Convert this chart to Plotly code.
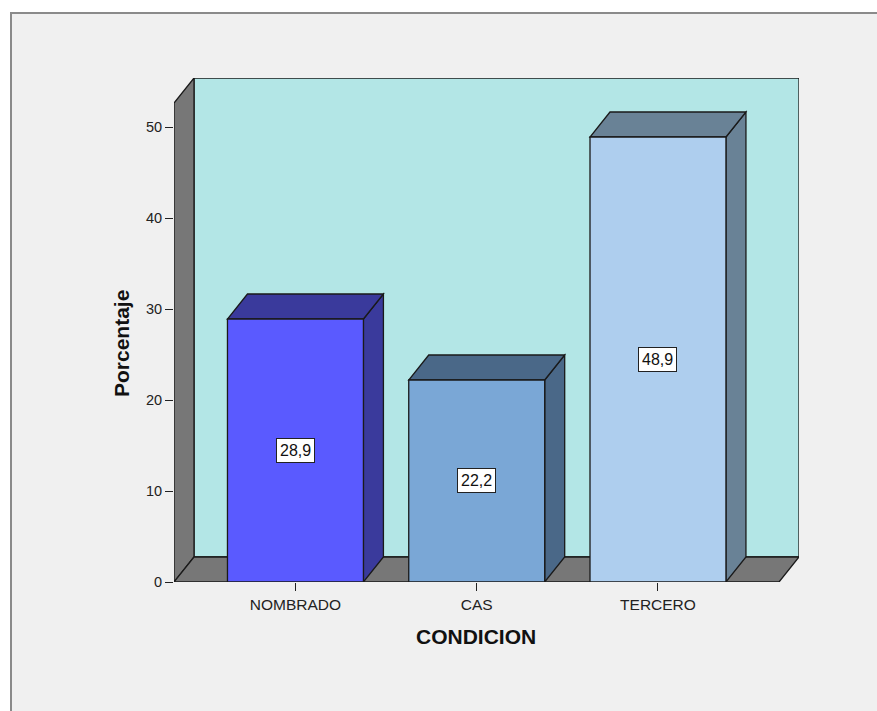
import plotly.graph_objects as go

# Data
categories = ["NOMBRADO", "CAS", "TERCERO"]
percentages = [28.9, 22.2, 48.9]
y_ticks = [0, 10, 20, 30, 40, 50]

front_colors = ["#5a5aff", "#7aa7d6", "#aeceee"]
shade_colors = ["#3a3a9c", "#4a6888", "#698296"]

# Figure / plot-area geometry (pixels)
W, H = 877, 711
PL, PR, PT, PB = 174, 799, 78, 582
X0, X1 = -0.67, 2.778          # x range of the plot area (category units)
Y_MAX = (PB - PT) / 9.1        # 9.1 px per percentage point
DX = 20 / ((PR - PL) / (X1 - X0))   # depth offset in x units
DY = 25 / 9.1                  # depth offset in y units
BAR_HALF = 0.375
FLOOR_RIGHT = X1 - DX
FONT = "Arial, Liberation Sans"

def px2paper(px, py):
    return (px - PL) / (PR - PL), (PB - py) / (PB - PT)

def poly(points):
    return "M " + " L ".join(f"{x},{y}" for x, y in points) + " Z"

shapes = []

# outer panel frame
fx0, fy0 = px2paper(11, 13)
fx1, fy1 = px2paper(900, 740)
shapes.append(dict(type="rect", xref="paper", yref="paper", x0=fx0, y0=fy1, x1=fx1, y1=fy0,
                   fillcolor="#f0f0f0", line=dict(color="#8a8a8a", width=2), layer="below"))

edge = dict(color="#1a1a1a", width=1.3)

# back wall
shapes.append(dict(type="path", xref="x", yref="y",
                   path=poly([(X0 + DX, DY), (X1, DY), (X1, Y_MAX), (X0 + DX, Y_MAX)]),
                   fillcolor="#b3e6e6", line=edge))
# left wall
shapes.append(dict(type="path", xref="x", yref="y",
                   path=poly([(X0, 0), (X0 + DX, DY), (X0 + DX, Y_MAX), (X0, Y_MAX - DY)]),
                   fillcolor="#777777", line=edge))
# floor
shapes.append(dict(type="path", xref="x", yref="y",
                   path=poly([(X0, 0), (FLOOR_RIGHT, 0), (X1, DY), (X0 + DX, DY)]),
                   fillcolor="#777777", line=edge))

# 3D bars
for i, v in enumerate(percentages):
    l, r = i - BAR_HALF, i + BAR_HALF
    shapes.append(dict(type="path", xref="x", yref="y",
                       path=poly([(r, 0), (r + DX, DY), (r + DX, v + DY), (r, v)]),
                       fillcolor=shade_colors[i], line=edge))
    shapes.append(dict(type="path", xref="x", yref="y",
                       path=poly([(l, v), (r, v), (r + DX, v + DY), (l + DX, v + DY)]),
                       fillcolor=shade_colors[i], line=edge))
    shapes.append(dict(type="path", xref="x", yref="y",
                       path=poly([(l, 0), (r, 0), (r, v), (l, v)]),
                       fillcolor=front_colors[i], line=edge))

annotations = []
for i, v in enumerate(percentages):
    annotations.append(dict(x=i, y=v / 2, xref="x", yref="y", showarrow=False,
                            xanchor="center", yanchor="middle",
                            text=f"{v:.1f}".replace(".", ","),
                            font=dict(family=FONT, size=16, color="#111"),
                            bgcolor="white", bordercolor="#222", borderwidth=1, borderpad=3))

ax, ay = px2paper(121, 344)
annotations.append(dict(x=ax, y=ay, xref="paper", yref="paper", showarrow=False,
                        xanchor="center", yanchor="middle",
                        text="<b>Porcentaje</b>", textangle=-90,
                        font=dict(family=FONT, size=21, color="#111")))
ax, ay = px2paper(476, 636)
annotations.append(dict(x=ax, y=ay, xref="paper", yref="paper", showarrow=False,
                        xanchor="center", yanchor="middle",
                        text="<b>CONDICION</b>",
                        font=dict(family=FONT, size=21, color="#111")))

# invisible trace so the axes render
fig = go.Figure(go.Scatter(x=[0, 1, 2], y=percentages, mode="markers",
                           marker=dict(opacity=0), hoverinfo="skip", showlegend=False))

fig.update_layout(
    width=W, height=H,
    margin=dict(l=PL, r=W - PR, t=PT, b=H - PB, pad=0),
    paper_bgcolor="white", plot_bgcolor="rgba(0,0,0,0)",
    shapes=shapes, annotations=annotations, showlegend=False,
    font=dict(family=FONT, color="#222"),
)
fig.update_xaxes(range=[X0, X1], tickvals=[0, 1, 2], ticktext=categories,
                 ticks="outside", ticklen=8, tickcolor="#222", tickwidth=1.3,
                 showgrid=False, zeroline=False, showline=False,
                 tickfont=dict(size=15.5, color="#222"))
fig.update_yaxes(range=[0, Y_MAX], tickvals=y_ticks,
                 ticks="outside", ticklen=8, tickcolor="#222", tickwidth=1.3,
                 showgrid=False, zeroline=False, showline=False,
                 tickfont=dict(size=14.5, color="#222"))

fig.write_html("out.html")
